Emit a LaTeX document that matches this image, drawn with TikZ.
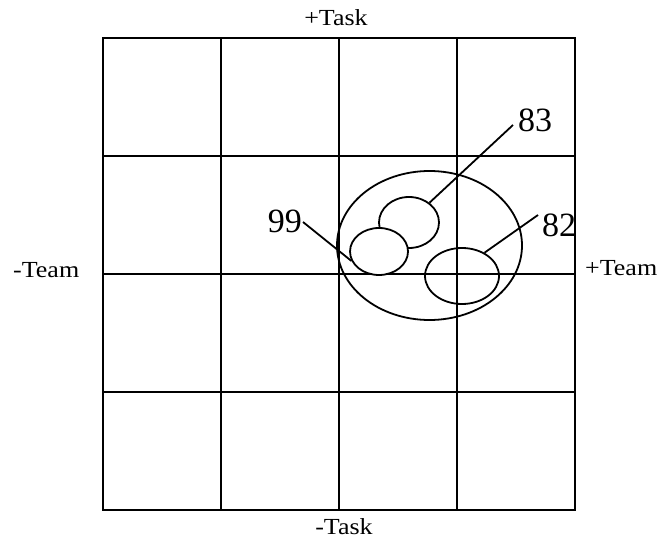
\documentclass[tikz,border=0pt]{standalone}
\usepackage{fontspec}
\setmainfont{Liberation Serif}
\newfontfamily\widefont[FakeStretch=1.13]{Liberation Serif}
\usetikzlibrary{shapes.geometric}
\begin{document}
\begin{tikzpicture}[
  x=1pt, y=-1pt,
  gridline/.style={line width=2.1pt, line cap=rect},
  ring/.style={draw, ellipse, line width=1.8pt, inner sep=0pt},
  lead/.style={line width=1.8pt},
  num/.style={inner sep=0pt, font=\fontsize{34}{38}\selectfont},
  lab/.style={inner sep=0pt, font=\widefont\fontsize{23}{27}\selectfont}
]
\useasboundingbox (0,0) rectangle (662,540);
\foreach \i in {0,1,2,3,4} {
  \draw[gridline] (103+118*\i,38) -- (103+118*\i,510);
  \draw[gridline] (103,38+118*\i) -- (575,38+118*\i);
}
\node[lab, anchor=base] (ptask) at (336,26) {+Task};
\node[lab, anchor=base] (mtask) at (344,534) {-Task};
\node[lab, anchor=base west] (mteam) at (13,278) {-Team};
\node[lab, anchor=base west] (pteam) at (585,276) {+Team};
% clusters
\node[ring, minimum width=185pt, minimum height=149pt] (eall) at (429.5,245.5) {};
\node[ring, minimum width=60pt, minimum height=51pt] (e83) at (409,222.5) {};
\node[ring, fill=white, minimum width=58pt, minimum height=47pt] (e99) at (379,251.5) {};
\node[ring, minimum width=74pt, minimum height=56pt] (e82) at (462,276) {};
\coordinate (t83) at (513,125);
\coordinate (t82) at (538,215);
\coordinate (t99) at (303,222);
\node[num, anchor=base west] (l83) at (518,132) {83};
\node[num, anchor=base west] (l82) at (542,237) {82};
\node[num, anchor=base east] (l99) at (302,233) {99};
\draw[lead] (e83.44) -- (t83);
\draw[lead] (e82.46) -- (t82);
\draw[lead] (e99.199) -- (t99);
\end{tikzpicture}
\end{document}
